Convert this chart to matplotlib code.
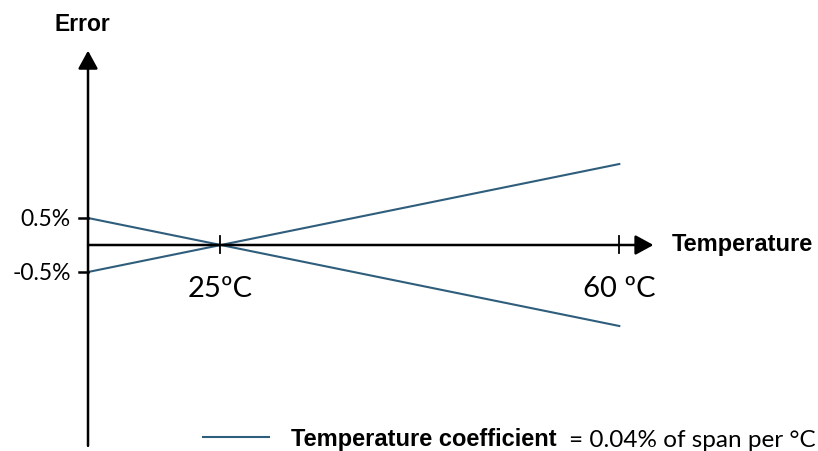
import matplotlib.pyplot as plt

# data
temps = [13.4, 60]
err_down = [0.5, -1.5]
err_up = [-0.5, 1.5]
xtick_vals = [25, 60]
xtick_labels = ['25ºC', '60 ºC']
ytick_vals = [0.5, -0.5]
ytick_labels = ['0.5%', '-0.5%']

line_color = '#2f5d7c'
bold_font = 'Liberation Sans'
light_font = 'Lato'

fig = plt.figure(figsize=(8.18, 4.52), dpi=100)
ax = fig.add_axes([0, 0, 1, 1])
ax.set_xlim(5.68, 77.43)
ax.set_ylim(-3.815, 4.556)
ax.axis('off')

x0 = temps[0]

# the two error lines
ax.plot(temps, err_down, color=line_color, lw=1.5, zorder=2)
ax.plot(temps, err_up, color=line_color, lw=1.5, zorder=2)

# axes with arrows
arrow = dict(arrowstyle='-|>,head_length=0.55,head_width=0.3', color='black',
             lw=1.8, shrinkA=0, shrinkB=0, mutation_scale=20)
ax.annotate('', xy=(x0, 3.6), xytext=(x0, -3.72), arrowprops=arrow, zorder=3)
ax.annotate('', xy=(63.0, 0), xytext=(x0, 0), arrowprops=arrow, zorder=3)

# ticks
for v in ytick_vals:
    ax.plot([x0 - 0.75, x0], [v, v], color='black', lw=1.8)
for v in xtick_vals:
    ax.plot([v, v], [-0.15, 0.17], color='black', lw=1.3)

for v, lab in zip(ytick_vals, ytick_labels):
    ax.text(x0 - 1.5, v, lab, ha='right', va='center', fontsize=16.5,
            family=light_font)
for v, lab in zip(xtick_vals, xtick_labels):
    ax.text(v, -0.8, lab, ha='center', va='center', fontsize=21,
            family=light_font)

ax.text(x0 - 0.5, 4.1, 'Error', ha='center', va='center', fontsize=16.5,
        fontweight='bold', family=bold_font)
ax.text(64.6, 0.02, 'Temperature', ha='left', va='center', fontsize=17,
        fontweight='bold', family=bold_font)

# legend row at the bottom
ax.plot([23.5, 29.3], [-3.56, -3.56], color=line_color, lw=1.5)
ax.text(31.2, -3.58, 'Temperature coefficient', ha='left', va='center',
        fontsize=17, fontweight='bold', family=bold_font)
ax.text(55.6, -3.6, '= 0.04% of span per °C', ha='left', va='center',
        fontsize=17.5, family=light_font)

plt.savefig('out.png')
